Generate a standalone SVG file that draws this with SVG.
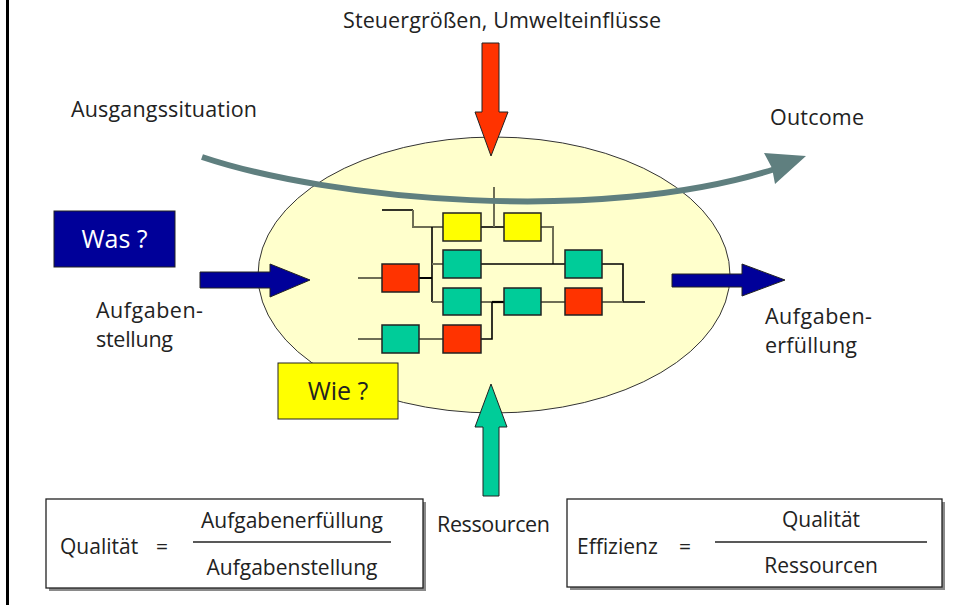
<svg xmlns="http://www.w3.org/2000/svg" width="957" height="605" viewBox="0 0 957 605">
<style>
text{font-family:"Open Sans","Noto Sans","Liberation Sans",sans-serif;fill:#222;font-size:21.5px}
.fx{font-size:21px}
.box{stroke:#222;stroke-width:1.5}
.y{fill:#FFFF00}.t{fill:#00CC99}.r{fill:#FF3300}
.wb{stroke:#000;stroke-width:1.6;fill:none}
.wg{stroke:#6E6E55;stroke-width:2;fill:none}
.frm{fill:#fff;stroke:#222;stroke-width:1.3}
.sh{fill:#8a8a8a}
</style>
<rect width="957" height="605" fill="#fff"/>
<line x1="7.5" y1="0" x2="7.5" y2="605" stroke="#000" stroke-width="3"/>

<g id="process">
<ellipse cx="494" cy="275" rx="236" ry="138" fill="#FFFFCC" stroke="#333" stroke-width="1"/>
</g>

<g id="connectors">
<polyline class="wb" points="382,210 413,210"/>
<polyline class="wg" points="413,210 413,227 443,227"/>
<line class="wb" x1="432" y1="227" x2="432" y2="302"/>
<line class="wg" x1="432" y1="264" x2="443" y2="264"/>
<line class="wg" x1="432" y1="302" x2="443" y2="302"/>
<line class="wb" x1="419" y1="278" x2="432" y2="278" style="stroke-width:2"/>
<line class="wg" x1="358" y1="278" x2="382" y2="278"/>
<line class="wb" x1="481" y1="227" x2="504" y2="227"/>
<line class="wg" x1="494" y1="187" x2="494" y2="227"/>
<polyline class="wg" points="541,227 553,227 553,264"/>
<line class="wb" x1="481" y1="264" x2="565" y2="264"/>
<polyline class="wb" points="602,264 623,264 623,302 645,302"/>
<line class="wg" x1="481" y1="302" x2="492" y2="302"/>
<line class="wb" x1="492" y1="302" x2="504" y2="302" style="stroke-width:2.2"/>
<line class="wg" x1="541" y1="302" x2="565" y2="302"/>
<line class="wg" x1="602" y1="302" x2="623" y2="302"/>
<line class="wg" x1="358" y1="339" x2="382" y2="339"/>
<line class="wg" x1="419" y1="339" x2="443" y2="339"/>
<polyline class="wb" points="481,339 492,339 492,302"/>

<path d="M202,157 C330,200 600,225 775,169" fill="none" stroke="#5F7F7F" stroke-width="6"/>
<polygon points="764,153 806,156 775,184 772,168" fill="#5F7F7F"/>

<polygon points="482,43 499,43 499,112 508,112 491,156 475,112 482,112" fill="#FF3300" stroke="#222" stroke-width="1"/>
<polygon points="483,496 499,496 499,427 507,427 491,384 475,427 483,427" fill="#00CC99" stroke="#222" stroke-width="1"/>
<polygon points="200,272 270,272 270,264 310,280 270,297 270,288 200,288" fill="#000099" stroke="#222" stroke-width="1"/>
<polygon points="672,274 742,274 742,264 785,280 742,296 742,287 672,287" fill="#000099" stroke="#222" stroke-width="1"/>
</g>

<g id="blocks">
<rect class="box y" x="443" y="213" width="38" height="28"/>
<rect class="box y" x="504" y="213" width="37" height="28"/>
<rect class="box t" x="443" y="250" width="38" height="28"/>
<rect class="box t" x="565" y="250" width="37" height="28"/>
<rect class="box r" x="382" y="264" width="37" height="28"/>
<rect class="box t" x="443" y="288" width="38" height="27"/>
<rect class="box t" x="504" y="288" width="37" height="27"/>
<rect class="box r" x="565" y="288" width="37" height="27"/>
<rect class="box t" x="382" y="325" width="37" height="28"/>
<rect class="box r" x="443" y="325" width="38" height="28"/>
</g>

<g id="was">
<rect x="54" y="211" width="121" height="56" fill="#000099" stroke="#222" stroke-width="1"/>
<text x="114.5" y="248" text-anchor="middle" style="fill:#fff;font-size:25px">Was ?</text>
</g>

<g id="wie">
<rect x="278" y="363" width="120" height="56" fill="#FFFF00" stroke="#222" stroke-width="1"/>
<text x="338" y="400" text-anchor="middle" style="font-size:25px">Wie ?</text>
</g>

<g id="labels">
<text x="343" y="28" textLength="318">Steuergrößen, Umwelteinflüsse</text>
<text x="71" y="117" textLength="186">Ausgangssituation</text>
<text x="770" y="125" textLength="94">Outcome</text>
<text x="96" y="318" textLength="107">Aufgaben-</text>
<text x="96" y="347" textLength="77">stellung</text>
<text x="765" y="324" textLength="107">Aufgaben-</text>
<text x="765" y="353" textLength="92">erfüllung</text>
<text x="437" y="532" textLength="113">Ressourcen</text>
</g>

<g id="qualitaet">
<rect class="sh" x="49" y="502" width="377" height="89"/>
<rect class="frm" x="46" y="499" width="377" height="89"/>
<text class="fx" x="60" y="554">Qualität</text>
<text class="fx" x="162" y="554" text-anchor="middle">=</text>
<line x1="193" y1="542" x2="391" y2="542" stroke="#222" stroke-width="1.3"/>
<text class="fx" x="292" y="528" text-anchor="middle">Aufgabenerfüllung</text>
<text class="fx" x="292" y="575" text-anchor="middle">Aufgabenstellung</text>
</g>

<g id="effizienz">
<rect class="sh" x="570" y="502" width="375" height="88"/>
<rect class="frm" x="567" y="499" width="375" height="88"/>
<text class="fx" x="577" y="554">Effizienz</text>
<text class="fx" x="685" y="554" text-anchor="middle">=</text>
<line x1="715" y1="542" x2="927" y2="542" stroke="#222" stroke-width="1.3"/>
<text class="fx" x="821" y="527" text-anchor="middle">Qualität</text>
<text class="fx" x="821" y="573" text-anchor="middle">Ressourcen</text>
</g>
</svg>
